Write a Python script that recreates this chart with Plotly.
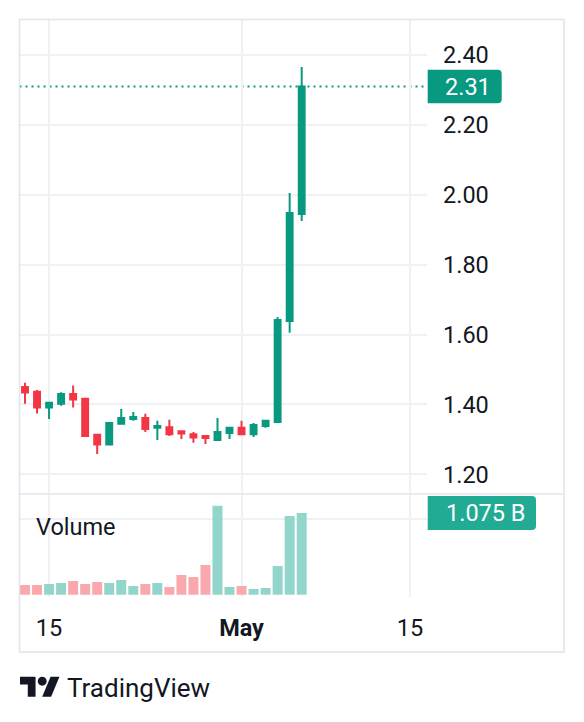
import plotly.graph_objects as go

# ---------------- data ----------------
dates = ["2024-04-13", "2024-04-14", "2024-04-15", "2024-04-16", "2024-04-17", "2024-04-18",
         "2024-04-19", "2024-04-20", "2024-04-21", "2024-04-22", "2024-04-23", "2024-04-24",
         "2024-04-25", "2024-04-26", "2024-04-27", "2024-04-28", "2024-04-29", "2024-04-30",
         "2024-05-01", "2024-05-02", "2024-05-03", "2024-05-04", "2024-05-05", "2024-05-06"]
open_ = [1.450, 1.436, 1.391, 1.402, 1.430, 1.416, 1.313, 1.285, 1.345, 1.358, 1.361, 1.333,
         1.335, 1.323, 1.315, 1.310, 1.298, 1.318, 1.333, 1.315, 1.338, 1.350, 1.639, 1.945]
high = [1.462, 1.441, 1.408, 1.435, 1.454, 1.416, 1.313, 1.347, 1.387, 1.378, 1.373, 1.353,
        1.356, 1.324, 1.321, 1.312, 1.361, 1.333, 1.353, 1.347, 1.356, 1.650, 2.005, 2.366]
low = [1.402, 1.374, 1.358, 1.396, 1.391, 1.310, 1.258, 1.285, 1.345, 1.353, 1.321, 1.298,
       1.310, 1.301, 1.290, 1.287, 1.295, 1.301, 1.315, 1.307, 1.333, 1.350, 1.605, 1.925]
close = [1.434, 1.391, 1.405, 1.430, 1.414, 1.310, 1.285, 1.347, 1.361, 1.364, 1.330, 1.338,
         1.315, 1.317, 1.305, 1.304, 1.321, 1.333, 1.315, 1.341, 1.353, 1.642, 1.948, 2.310]
volume = [0.127e9, 0.127e9, 0.140e9, 0.154e9, 0.180e9, 0.140e9, 0.167e9, 0.154e9,
          0.193e9, 0.114e9, 0.140e9, 0.154e9, 0.101e9, 0.259e9, 0.232e9, 0.390e9,
          1.171e9, 0.101e9, 0.114e9, 0.075e9, 0.088e9, 0.377e9, 1.035e9, 1.075e9]
time_tick_vals = ["2024-04-15", "2024-05-01", "2024-05-15"]
time_tick_text = ["15", "<b>May</b>", "15"]

# ---------------- style ----------------
W, H = 584, 722
UP, DOWN = "#089981", "#F23645"
UP_VOL, DOWN_VOL = "#92d5ca", "#f9a8ae"
GRID = "#f0f1f5"
BORDER = "#e2e4eb"
TXT = "#131722"
FONT = "Roboto"
FS = 23.5


def fx(x):
    return x / W


def fy(y):
    return 1 - y / H


vol_colors = [UP_VOL if c >= o else DOWN_VOL for o, c in zip(open_, close)]

fig = go.Figure()
fig.add_trace(go.Candlestick(
    x=dates, open=open_, high=high, low=low, close=close,
    increasing=dict(line=dict(color=UP, width=2), fillcolor=UP),
    decreasing=dict(line=dict(color=DOWN, width=2), fillcolor=DOWN),
    xaxis="x", yaxis="y", showlegend=False, hoverinfo="skip"))
fig.add_trace(go.Bar(
    x=dates, y=volume, marker=dict(color=vol_colors, line=dict(width=0)),
    xaxis="x2", yaxis="y2", showlegend=False, hoverinfo="skip"))

xrange = ["2024-04-12 13:00", "2024-05-16 10:00"]
xdom = [fx(19.5), fx(427)]

fig.update_layout(
    width=W, height=H,
    margin=dict(l=0, r=0, t=0, b=0),
    paper_bgcolor="white", plot_bgcolor="white",
    font=dict(family=FONT, size=FS, color=TXT),
    bargap=0.17,
    xaxis=dict(domain=xdom, range=xrange, anchor="y", type="date",
               tickvals=time_tick_vals, showticklabels=False,
               showgrid=True, gridcolor=GRID, gridwidth=1.5, zeroline=False,
               showline=False, ticks="", rangeslider=dict(visible=False), fixedrange=True),
    yaxis=dict(domain=[fy(494), fy(19.5)], range=[1.1436, 2.5020], anchor="x",
               side="right", tick0=0, dtick=0.2, tickformat=".2f",
               showgrid=True, gridcolor=GRID, gridwidth=1.5, zeroline=False,
               showline=False, ticks="", ticklabelstandoff=15,
               tickfont=dict(family=FONT, size=FS, color=TXT), fixedrange=True),
    xaxis2=dict(domain=xdom, range=xrange, anchor="y2", type="date",
                tickvals=time_tick_vals, ticktext=time_tick_text,
                showgrid=True, gridcolor=GRID, gridwidth=1.5, zeroline=False,
                showline=False, ticks="", ticklabelstandoff=14,
                tickfont=dict(family=FONT, size=FS, color=TXT), fixedrange=True),
    yaxis2=dict(domain=[fy(597), fy(494)], range=[-0.0303e9, 1.325e9], anchor="x2",
                tickvals=[1e9], showticklabels=False, showgrid=True, gridcolor=GRID,
                gridwidth=1.5, zeroline=False, showline=False, ticks="", fixedrange=True),
)

shapes = []
# outer frame
shapes.append(dict(type="rect", xref="paper", yref="paper",
                   x0=fx(19.5), x1=fx(564), y0=fy(652), y1=fy(19.5),
                   line=dict(color=BORDER, width=1.5), fillcolor="rgba(0,0,0,0)", layer="above"))
# pane separator
shapes.append(dict(type="line", xref="paper", yref="paper",
                   x0=fx(19.5), x1=fx(564), y0=fy(494), y1=fy(494),
                   line=dict(color=BORDER, width=1.5), layer="above"))
# last price dotted line
last_close = close[-1]
shapes.append(dict(type="line", xref="x domain", yref="y", x0=0, x1=1,
                   y0=last_close, y1=last_close,
                   line=dict(color=UP, width=2, dash="2px,4px"), layer="below"))


def label_box(w, h, r):
    return (f"M0,{-h} L{w - r},{-h} Q{w},{-h} {w},{-h + r} L{w},{h - r} "
            f"Q{w},{h} {w - r},{h} L0,{h} Z")


# price label box
shapes.append(dict(type="path", xref="paper", yref="y", xsizemode="pixel", ysizemode="pixel",
                   xanchor=fx(427.7), yanchor=last_close, path=label_box(74, 16.7, 4),
                   fillcolor=UP, line=dict(width=0), layer="above"))
# volume label box
last_vol = volume[-1]
shapes.append(dict(type="path", xref="paper", yref="y2", xsizemode="pixel", ysizemode="pixel",
                   xanchor=fx(427.7), yanchor=last_vol, path=label_box(108.3, 17, 4),
                   fillcolor="#22ab94", line=dict(width=0), layer="above"))

# TradingView logo (viewBox 36x28 mapped to pixels)
def lx(v):
    return fx(20 + 1.111 * v)


def ly(v):
    return fy(672.3 + 1.111 * v)


tpath = "M{},{} L{},{} L{},{} L{},{} L{},{} L{},{} Z".format(
    lx(14), ly(22), lx(7), ly(22), lx(7), ly(11), lx(0), ly(11), lx(0), ly(4), lx(14), ly(4))
spath = "M{},{} L{},{} L{},{} L{},{} Z".format(
    lx(28), ly(22), lx(20), ly(22), lx(27.5), ly(4), lx(35.5), ly(4))
shapes.append(dict(type="path", xref="paper", yref="paper", path=tpath,
                   fillcolor=TXT, line=dict(width=0)))
shapes.append(dict(type="path", xref="paper", yref="paper", path=spath,
                   fillcolor=TXT, line=dict(width=0)))
shapes.append(dict(type="circle", xref="paper", yref="paper",
                   x0=lx(16), x1=lx(24), y0=ly(12), y1=ly(4),
                   fillcolor=TXT, line=dict(width=0)))

fig.update_layout(shapes=shapes)

annotations = [
    dict(text=f"{last_close:.2f}", xref="paper", yref="y", x=fx(443), y=last_close,
         xanchor="left", yanchor="middle", showarrow=False,
         font=dict(family=FONT, size=FS, color="white")),
    dict(text=f"{last_vol / 1e9:.3f} B", xref="paper", yref="y2", x=fx(444), y=last_vol,
         xanchor="left", yanchor="middle", showarrow=False,
         font=dict(family=FONT, size=FS, color="white")),
    dict(text="Volume", xref="paper", yref="paper", x=fx(34), y=fy(527),
         xanchor="left", yanchor="middle", showarrow=False,
         font=dict(family=FONT, size=FS, color=TXT)),
    dict(text="TradingView", xref="paper", yref="paper", x=fx(65), y=fy(688),
         xanchor="left", yanchor="middle", showarrow=False,
         font=dict(family=FONT, size=26, color=TXT)),
]
fig.update_layout(annotations=annotations)

fig.write_html("out.html")
